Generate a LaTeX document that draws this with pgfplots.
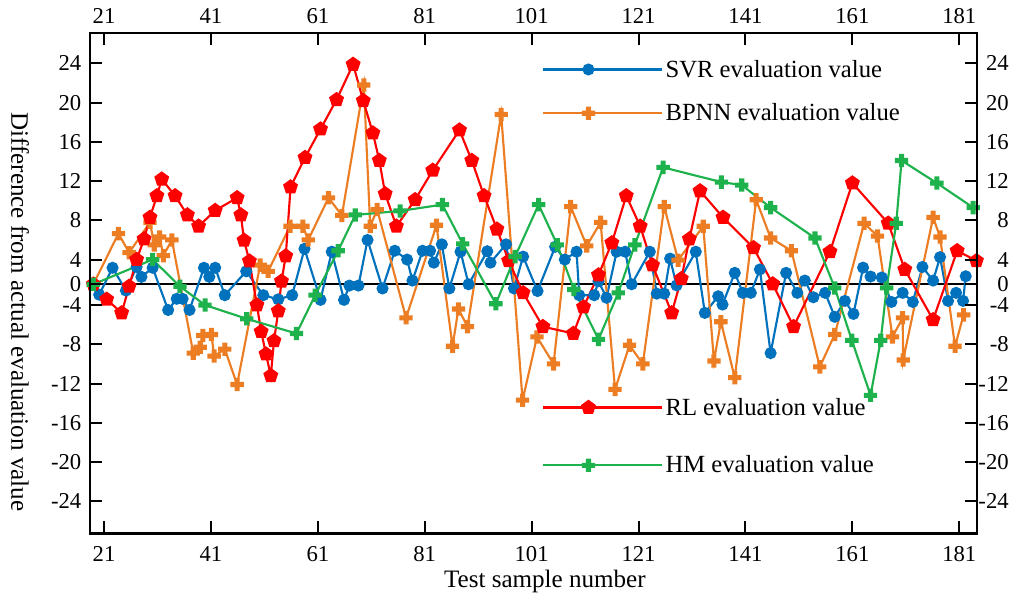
\documentclass[border=0pt]{standalone}
\usepackage{fontspec}
\setmainfont{Liberation Serif}
\usepackage{pgfplots}
\pgfplotsset{compat=1.18}
\definecolor{svr}{RGB}{0,114,189}
\definecolor{bpnn}{RGB}{236,125,35}
\definecolor{rl}{RGB}{255,0,0}
\definecolor{hm}{RGB}{30,178,76}

\pgfdeclareplotmark{fatplus}{%
  \pgfpathrectangle{\pgfpoint{-\pgfplotmarksize}{-0.38\pgfplotmarksize}}{\pgfpoint{2\pgfplotmarksize}{0.76\pgfplotmarksize}}%
  \pgfpathrectangle{\pgfpoint{-0.38\pgfplotmarksize}{-\pgfplotmarksize}}{\pgfpoint{0.76\pgfplotmarksize}{2\pgfplotmarksize}}%
  \pgfusepathqfill}

\pgfplotsset{
  y coord trafo/.code={\pgfmathparse{((#1)>4)*((#1)-1.48)+((#1)<-4)*((#1)+1.88)+and((#1)>=0,(#1)<=4)*0.63*(#1)+and((#1)<0,(#1)>=-4)*0.53*(#1)}},
  y coord inv trafo/.code={\pgfmathparse{((#1)>2.52)*((#1)+1.48)+((#1)<-2.12)*((#1)-1.88)+and((#1)>=0,(#1)<=2.52)*(#1)/0.63+and((#1)<0,(#1)>=-2.12)*(#1)/0.53}},
  base/.style={
    scale only axis, width=665pt, height=375pt,
    at={(0pt,0pt)}, anchor=south west,
    xmin=18.38, xmax=184.26, ymin=-27.28, ymax=27.07,
    xtick={21,41,...,181}, ytick={-24,-20,...,24},
    tick align=inside, major tick length=9pt,
    axis line style={line width=1.7pt},
    tick style={line width=1.5pt, black},
    ticklabel style={font=\fontsize{17}{17}\selectfont},
    /pgf/number format/assume math mode=true,
    clip=false,
  },
  limg/.style={legend image code/.code={
      \draw[mark repeat=2,mark phase=2] plot coordinates {(0pt,0pt) (34pt,0pt) (68pt,0pt)};
      \path (0pt,0pt) -- (89pt,0pt);}},
  pl/.style={line width=1.6pt, mark=fatplus, mark size=5pt},
}

\begin{document}
\begin{tikzpicture}
\useasboundingbox (-67.5pt,-50.8pt) rectangle (698.2pt,400pt);
\begin{axis}[base,
  xticklabel style={yshift=-6pt},
  yticklabel style={xshift=-3pt},
  xlabel={Test sample number},
  ylabel={Difference from actual evaluation value},
  label style={font=\fontsize{18.8}{18.8}\selectfont},
  xlabel style={at={(axis description cs:0.513,-0.097)}, anchor=center},
  ylabel style={at={(axis description cs:-0.079,0.443)}, anchor=center, rotate=180},
  legend style={at={(axis description cs:0.505,0.958)}, anchor=north west, draw=none, fill=none,
    font=\fontsize{18.5}{18.5}\selectfont, row sep=14.5pt},
  legend cell align=left, limg,
]
\draw[black, line width=1.8pt] (axis cs:18.38,0) -- (axis cs:184.26,0);

\addplot[svr, line width=1.6pt, mark=*, mark size=3.7pt] coordinates {
(19,0) (20.1,-2.0) (22.6,2.67) (25.1,-1.2) (27.1,2.8) (28.0,1.2) (30.1,2.67) (33.0,-4.5) (34.6,-2.8) (35.7,-2.8) (37.0,-4.5) (39.7,2.67) (40.7,1.2) (41.8,2.67) (43.6,-2.1) (47.6,2.1) (50.8,-2.1) (53.6,-2.9) (56.2,-2.1) (58.5,5.1) (61.5,-3.0) (63.6,4.8) (65.9,-3.0) (66.9,-0.25) (68.6,-0.25) (70.3,6.0) (73.1,-0.8) (75.4,4.9) (77.7,4.0) (78.7,0.6) (80.6,4.9) (82.0,4.9) (82.7,3.5) (84.2,5.55) (85.6,-0.8) (87.7,4.8) (89.2,0) (92.7,4.85) (93.3,3.5) (96.2,5.55) (97.7,-0.8) (99.4,4.3) (102.1,-1.3) (105.4,5.3) (107.2,4.0) (109.4,4.8) (109.9,-2.1) (112.7,-2.1) (113.5,0.5) (115.0,-2.6) (116.9,4.8) (118.5,4.8) (119.7,0) (123.1,4.8) (124.4,-1.8) (125.8,-1.8) (126.9,4.1) (128.1,-0.2) (131.7,4.8) (133.4,-4.8) (135.9,-2.3) (136.7,-3.9) (139.0,1.85) (140.5,-1.65) (142.0,-1.65) (143.7,2.4) (145.7,-8.9) (148.6,1.85) (150.7,-1.65) (152.1,0.6) (153.7,-2.5) (155.9,-1.65) (157.7,-5.2) (159.6,-3.2) (161.2,-4.9) (163.0,2.7) (164.4,1.25) (166.5,1.1) (168.3,-3.4) (170.4,-1.65) (172.3,-3.4) (174.1,2.8) (176.1,0.6) (177.4,4.25) (178.9,-3.2) (180.4,-1.65) (181.7,-3.2) (182.2,1.3)
};
\addlegendentry{SVR evaluation value}

\addplot[bpnn, pl] coordinates {
(19,0) (23.7,6.65) (25.7,4.7) (29.6,7.8) (30.4,5.5) (31.4,6.3) (32.1,4.4) (33.7,6.0) (37.7,-8.9) (39.0,-8.3) (39.5,-7.1) (41.1,-7.0) (41.6,-9.2) (43.6,-8.5) (45.9,-12.1) (50.2,3.1) (51.7,2.1) (55.8,7.4) (58.2,7.4) (59.2,6.0) (63.0,10.3) (65.5,8.5) (69.6,21.8) (70.8,7.4) (72.1,9.1) (77.5,-5.3) (83.2,7.5) (86.2,-8.2) (87.3,-4.4) (89.0,-6.2) (95.3,18.8) (99.3,-13.7) (102.0,-7.25) (105.1,-10.0) (108.3,9.4) (111.3,5.4) (113.9,7.8) (116.6,-12.6) (119.3,-8.1) (121.8,-10.0) (125.8,9.4) (128.4,3.9) (133.1,7.4) (135.1,-9.7) (136.4,-5.7) (139.0,-11.4) (143.0,10.1) (145.7,6.2) (149.6,4.9) (154.9,-10.3) (157.7,-7.0) (163.2,7.7) (165.7,6.4) (168.5,-7.25) (170.4,-5.3) (170.5,-9.6) (176.1,8.3) (177.4,6.3) (180.2,-8.2) (181.8,-5.0)
};
\addlegendentry{BPNN evaluation value}

\addplot[rl, line width=1.6pt, mark=pentagon*, mark size=4.9pt, forget plot] coordinates {
(19,0) (21.5,-2.9) (24.3,-4.8) (25.7,-0.4) (27.1,4.0) (28.5,6.1) (29.6,8.3) (30.9,10.5) (31.8,12.2) (34.3,10.5) (36.6,8.55) (38.7,7.4) (41.8,9.0) (45.9,10.3) (46.6,8.55) (47.2,5.96) (48.2,3.75) (49.6,-4.0) (50.4,-6.7) (51.3,-9.0) (52.2,-11.2) (52.8,-7.65) (53.6,-4.6) (54.2,0.5) (55.0,4.36) (55.9,11.4) (58.6,14.4) (61.5,17.3) (64.5,20.3) (67.6,23.9) (69.5,20.2) (71.3,16.9) (72.5,14.1) (73.6,10.7) (75.7,7.4) (79.2,10.1) (82.5,13.1) (87.5,17.2) (89.8,14.1) (92.1,10.5) (94.5,7.1) (96.7,3.8) (99.4,-1.65) (103.1,-6.2) (108.8,-6.9) (110.7,-4.2) (113.5,1.5) (116.0,5.7) (118.7,10.5) (121.3,7.4) (123.6,3.1) (127.2,-4.8) (129.0,0.9) (130.5,6.1) (132.5,11.0) (136.8,8.3) (142.5,5.2) (146.1,0.05) (150.0,-6.2) (156.8,4.8) (161.0,11.8) (167.7,7.7) (170.8,2.4) (176.1,-5.5) (180.6,4.9) (184.2,3.8)
};

\addplot[hm, pl, forget plot] coordinates {
(19,0) (30.1,4.0) (35.2,-0.4) (39.9,-4.0) (47.7,-5.4) (57.0,-6.9) (60.5,-2.1) (64.8,4.9) (68.0,8.55) (76.4,8.96) (84.3,9.6) (88.1,5.6) (94.3,-3.75) (97.9,4.3) (102.3,9.6) (105.8,5.5) (108.9,-1.0) (113.5,-7.5) (117.2,-1.65) (120.3,5.5) (125.6,13.4) (136.5,11.9) (140.3,11.6) (145.7,9.3) (154.0,6.2) (157.7,-0.7) (160.9,-7.6) (164.4,-13.2) (166.3,-7.6) (167.4,-0.7) (169.2,7.7) (170.2,14.1) (176.8,11.8) (183.6,9.3)
};
\end{axis}

\begin{axis}[base,
  xticklabel pos=upper, yticklabel pos=right,
  xticklabel style={yshift=4pt},
  yticklabel style={anchor=east, xshift=27.5pt},
  legend style={at={(axis description cs:0.505,0.282)}, anchor=north west, draw=none, fill=none,
    font=\fontsize{18.5}{18.5}\selectfont, row sep=25pt},
  legend cell align=left, limg,
]
\addlegendimage{rl, line width=1.6pt, mark=pentagon*, mark size=4.9pt}
\addlegendentry{RL evaluation value}
\addlegendimage{hm, pl}
\addlegendentry{HM evaluation value}
\end{axis}
\end{tikzpicture}
\end{document}
